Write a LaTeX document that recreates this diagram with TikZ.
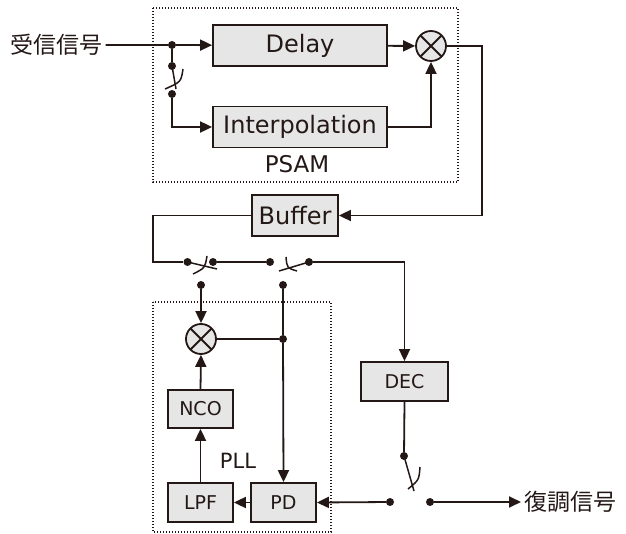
\documentclass[tikz,border=0pt]{standalone}
\usepackage{fontspec}
\usepackage{tikz}
\usetikzlibrary{arrows.meta}
\newfontfamily\jpfont{Noto Sans CJK JP}
\newfontfamily\lafont{DejaVu Sans}
\definecolor{inkdark}{HTML}{231815}
\definecolor{boxgray}{HTML}{E6E6E6}
\tikzset{
    block/.style={draw=inkdark, fill=boxgray, line width=1.8pt, inner sep=0pt, text=inkdark, font=\lafont\fontsize{24}{24}\selectfont},
    smallblock/.style={block, font=\lafont\fontsize{19}{19}\selectfont},
    mixer/.style={circle, draw=inkdark, fill=boxgray, line width=1.8pt, minimum size=30pt, inner sep=0pt,
        path picture={\draw[inkdark, line width=1.8pt] (path picture bounding box.north west) -- (path picture bounding box.south east)
            (path picture bounding box.north east) -- (path picture bounding box.south west);}},
    jdot/.style={circle, fill=inkdark, minimum size=8pt, inner sep=0pt},
    sig/.style={draw=inkdark, line width=1.8pt},
    arr/.style={sig, -{Triangle[length=12pt,width=11pt]}},
    groupframe/.style={draw=inkdark, line width=1.4pt, dash pattern=on 1.4pt off 1.6pt},
    lbl/.style={text=inkdark, font=\jpfont\fontsize{23}{23}\selectfont},
}
\begin{document}
\begin{tikzpicture}[x=1pt,y=-1pt]
    \useasboundingbox (0,0) rectangle (626,534);
    \draw [groupframe] (153,8) rectangle (458,182);
    \draw [groupframe] (153,302) rectangle (331,532);

    \node [lbl] (rx) at (56,45){受信信号};
    \node [block, minimum width=174, minimum height=41] (delay) at (300,45.5){Delay};
    \node [block, minimum width=174, minimum height=41] (interp) at (300,127){Interpolation};
    \node [mixer] (mixA) at (431,46){};
    \node [lbl, font=\lafont\fontsize{23}{23}\selectfont] (psam) at (297,164){PSAM};
    \node [block, minimum width=86, minimum height=41] (buffer) at (295,215.5){Buffer};
    \node [mixer] (mixB) at (201,339){};
    \node [smallblock, minimum width=65, minimum height=38] (nco) at (200.5,409){NCO};
    \node [smallblock, minimum width=65, minimum height=39] (lpf) at (200.5,502.5){LPF};
    \node [smallblock, minimum width=65, minimum height=39] (pd) at (283.5,502.5){PD};
    \node [lbl, font=\lafont\fontsize{21}{21}\selectfont] (pll) at (238,461){PLL};
    \node [smallblock, minimum width=87, minimum height=39] (dec) at (404.5,381.5){DEC};
    \node [lbl, anchor=west] (out) at (521,502){復調信号};

    \node [jdot] (j1) at (172,45){};
    \node [jdot] (s1a) at (172,66){};
    \node [jdot] (s1b) at (172,94){};
    \node [jdot] (s2a) at (187.5,262){};
    \node [jdot] (s2b) at (213,262){};
    \node [jdot] (s2c) at (201,285){};
    \node [jdot] (s3a) at (270,262){};
    \node [jdot] (s3b) at (309,262){};
    \node [jdot] (s3c) at (283,285){};
    \node [jdot] (jB) at (283,339){};
    \node [jdot] (s4a) at (404,456){};
    \node [jdot] (s4b) at (390,502){};
    \node [jdot] (s4c) at (430,502){};
    \coordinate (cR) at (482,215.5);
    \coordinate (cL) at (153,262);

    \draw [arr] (rx) -- (j1) -- (delay);
    \draw [sig] (j1) -- (s1a);
    \draw [arr] (s1b) |- (interp.west);
    \draw [arr] (delay) -- (mixA);
    \draw [arr] (interp.east) -| (mixA.south);
    \draw [arr] (mixA.east) -| (cR) -- (buffer.east);
    \draw [sig] (buffer.west) -| (cL) -- (s2a);
    \draw [sig] (s2b) -- (s3a);
    \draw [arr] (s3b) -| (dec.north);
    \draw [arr] (s2c) -- (mixB.north);
    \draw [arr] (s3c) -- (jB) -- (pd.north);
    \draw [sig] (mixB.east) -- (jB);
    \draw [arr] (nco.north) -- (mixB.south);
    \draw [arr] (lpf.north) -- (nco.south);
    \draw [arr] (pd.west) -- (lpf.east);
    \draw [sig] (dec.south) -- (s4a);
    \draw [arr] (s4b) -- (pd.east);
    \draw [arr] (s4c) -- (out.west);

    \draw [sig, line width=1.5pt] (s1a.center) -- (176,89);
    \draw [sig, line width=1.5pt] (183,69) .. controls (181,82) .. (165,89);
    \draw [sig, line width=1.5pt] (s2a.center) -- (217,269);
    \draw [sig, line width=1.5pt] (207,256) .. controls (205,268) .. (193,274);
    \draw [sig, line width=1.5pt] (s3b.center) -- (279,271);
    \draw [sig, line width=1.5pt] (286,257) .. controls (287,268) .. (297,271);
    \draw [sig, line width=1.5pt] (s4a.center) -- (414,491);
    \draw [sig, line width=1.5pt] (420,467) .. controls (419,480) .. (408,489);

\end{tikzpicture}
\end{document}
